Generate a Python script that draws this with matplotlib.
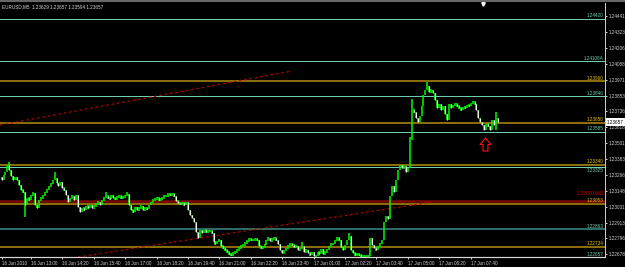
import matplotlib
matplotlib.use("Agg")
import matplotlib.pyplot as plt
import numpy as np
from matplotlib.path import Path
from matplotlib.lines import Line2D
from matplotlib.transforms import blended_transform_factory

# ---------------- data ----------------
symbol_title = "EURUSD,M5"
title_ohlc = ["1.23629", "1.23657", "1.23594", "1.23657"]

first_open = 1.23250
close = [
    1.23228, 1.23265, 1.23287, 1.23339, 1.23302, 1.23258, 1.23228, 1.23250, 1.23228, 1.23191,
    1.23154, 1.23139, 1.23043, 1.23095, 1.23080, 1.23117, 1.23132, 1.23043, 1.23021, 1.23080,
    1.23095, 1.23110, 1.23139, 1.23154, 1.23184, 1.23199, 1.23228, 1.23243, 1.23206, 1.23184,
    1.23213, 1.23169, 1.23154, 1.23117, 1.23066, 1.23095, 1.23110, 1.23080, 1.23117, 1.23029,
    1.22991, 1.23021, 1.23006, 1.23036, 1.23021, 1.23043, 1.23021, 1.23036, 1.23051, 1.23066,
    1.23043, 1.23080, 1.23095, 1.23110, 1.23095, 1.23088, 1.23117, 1.23095, 1.23088, 1.23102,
    1.23110, 1.23095, 1.23102, 1.23110, 1.23124, 1.23043, 1.23006, 1.22991, 1.23029, 1.23006,
    1.23021, 1.23036, 1.23006, 1.23021, 1.23014, 1.23043, 1.23066, 1.23080, 1.23088, 1.23095,
    1.23080, 1.23088, 1.23095, 1.23110, 1.23110, 1.23124, 1.23117, 1.23124, 1.23110, 1.23073,
    1.23058, 1.23051, 1.23058, 1.23043, 1.23066, 1.23006, 1.22969, 1.22947, 1.22917, 1.22844,
    1.22799, 1.22858, 1.22836, 1.22858, 1.22844, 1.22851, 1.22851, 1.22836, 1.22770, 1.22755,
    1.22777, 1.22784, 1.22740, 1.22726, 1.22711, 1.22696, 1.22681, 1.22674, 1.22688, 1.22696,
    1.22711, 1.22726, 1.22740, 1.22748, 1.22762, 1.22777, 1.22792, 1.22784, 1.22784, 1.22792,
    1.22784, 1.22740, 1.22726, 1.22733, 1.22748, 1.22784, 1.22799, 1.22777, 1.22792, 1.22799,
    1.22784, 1.22755, 1.22711, 1.22688, 1.22703, 1.22726, 1.22740, 1.22755, 1.22748, 1.22733,
    1.22740, 1.22711, 1.22718, 1.22740, 1.22696, 1.22711, 1.22688, 1.22674, 1.22696, 1.22666,
    1.22666, 1.22696, 1.22681, 1.22718, 1.22681, 1.22696, 1.22711, 1.22740, 1.22755, 1.22755,
    1.22784, 1.22799, 1.22784, 1.22733, 1.22711, 1.22748, 1.22784, 1.22814, 1.22711, 1.22688,
    1.22674, 1.22681, 1.22674, 1.22666, 1.22666, 1.22666, 1.22666, 1.22666, 1.22799, 1.22748,
    1.22726, 1.22711, 1.22740, 1.22755, 1.22784, 1.22917, 1.22962, 1.22940, 1.23110, 1.23184,
    1.23139, 1.23228, 1.23302, 1.23339, 1.23317, 1.23332, 1.23287, 1.23317, 1.23524, 1.23746,
    1.23731, 1.23687, 1.23657, 1.23702, 1.23775, 1.23857, 1.23894, 1.23924, 1.23879, 1.23894,
    1.23872, 1.23820, 1.23761, 1.23790, 1.23746, 1.23775, 1.23716, 1.23672, 1.23790, 1.23761,
    1.23783, 1.23790, 1.23775, 1.23761, 1.23746, 1.23768, 1.23761, 1.23783, 1.23775, 1.23798,
    1.23805, 1.23790, 1.23746, 1.23687, 1.23657, 1.23635, 1.23598, 1.23643, 1.23628, 1.23598,
    1.23672, 1.23635, 1.23687, 1.23657,
]
spike_high = {4: 1.23361, 27: 1.23287, 53: 1.23139, 64: 1.23139, 153: 1.22770,
              177: 1.22836, 208: 1.23546, 209: 1.23828, 217: 1.23953, 252: 1.23731}
spike_low = {12: 1.22954, 252: 1.23598}

level_prices = [1.24420, 1.24108, 1.23960, 1.23846, 1.23650, 1.23585, 1.23340,
                1.23325, 1.23070, 1.23053, 1.22863, 1.22734, 1.22657]
level_labels = ["1.24420", "1.24108A", "1.23960", "1.23846", "1.23650", "1.23585",
                "1.23340", "1.23325", "1.23070 MID", "1.23053", "1.22863", "1.22734", "1.22657"]
level_kinds = ["teal", "teal", "gold", "teal", "gold", "teal", "gold", "teal",
               "mid", "gold", "dteal", "gold", "teal"]

trend1_x = [-0.8, 148]
trend1_y = [1.23635, 1.24034]
trend2_x = [39, 219]
trend2_y = [1.22659, 1.23065]

arrow_x = 246.1
arrow_y = 1.23491

ytick_prices = [1.24441, 1.24323, 1.24206, 1.24088, 1.23971, 1.23853, 1.23736, 1.23618,
                1.23501, 1.23383, 1.23266, 1.23148, 1.23031, 1.22913, 1.22796, 1.22678]
xtick_bars = [0, 15, 31, 47, 63, 79, 95, 111, 127, 143, 159, 175, 191, 207, 223, 239]
xtick_labels = ["16 Jun 2010", "16 Jun 13:00", "16 Jun 14:20", "16 Jun 15:40", "16 Jun 17:00",
                "16 Jun 18:20", "16 Jun 19:40", "16 Jun 21:00", "16 Jun 22:20", "16 Jun 23:40",
                "17 Jun 01:00", "17 Jun 02:20", "17 Jun 03:40", "17 Jun 05:00", "17 Jun 06:20",
                "17 Jun 07:40"]

# ---------------- figure ----------------
W, H = 625, 267
DPI = 100
PX = 72.0 / DPI
FS = 3.3
FONT = "Liberation Sans"

fig = plt.figure(figsize=(W / DPI, H / DPI), dpi=DPI, facecolor="black")
ax_left, ax_right, ax_top, ax_bot = 0, 605, 3, 257
ax = fig.add_axes([ax_left / W, (H - ax_bot) / H, (ax_right - ax_left) / W, (ax_bot - ax_top) / H])
ax.set_facecolor("black")

ax.set_xlim(-0.8, 307.5)
ax.set_ylim(1.22659, 1.24537)
PRICE_PX = (1.24537 - 1.22659) / (ax_bot - ax_top)

# levels
styles = {
    "teal": dict(lc="#6ccfb0", lw=1.0, tc="#6ccfb0"),
    "gold": dict(lc="#b8920c", lw=1.5, tc="#e6c300"),
    "mid": dict(lc="#7a0808", lw=2.6, tc="#d40000"),
    "dteal": dict(lc="#2e6a64", lw=2.0, tc="#6ccfb0"),
}
# label offsets in pixels (positive = above line, va bottom; negative = below, va top)
label_offsets = {"1.23325": -1.0, "1.23070 MID": 5.0}
btrans = blended_transform_factory(ax.transAxes, ax.transData)
for p, lab, k in zip(level_prices, level_labels, level_kinds):
    s = styles[k]
    ax.axhline(p, color=s["lc"], lw=s["lw"] * PX, zorder=1)
    off = label_offsets.get(lab, 0.5)
    va = "bottom" if off > 0 else "top"
    ax.text(0.997, p + off * PRICE_PX, lab, transform=btrans, ha="right", va=va,
            color=s["tc"], fontsize=FS, family=FONT, zorder=5)

# trend lines
ax.plot(trend1_x, trend1_y, color="#c00000", lw=1.2 * PX, ls=(0, (2, 2.5)), zorder=2)
ax.plot(trend2_x, trend2_y, color="#c00000", lw=1.2 * PX, ls=(0, (2, 2.5)), zorder=2)

# candles
c = np.array(close)
o = np.concatenate([[first_open], c[:-1]])
x = np.arange(len(c))
hi = np.maximum(o, c)
lo = np.minimum(o, c)
for k, v in spike_high.items():
    hi[k] = max(hi[k], v)
for k, v in spike_low.items():
    lo[k] = min(lo[k], v)
minr = 2.5 * PRICE_PX
small = (hi - lo) < minr
hi[small] = hi[small] + minr / 2
lo[small] = lo[small] - minr / 2
ax.vlines(x, lo, hi, color="#00f000", lw=1.6 * PX, zorder=3)
bear = c < o
ax.vlines(x[bear], c[bear], o[bear], color="#eaffea", lw=1.1 * PX, zorder=4)

# red hollow up arrow
verts = [(0, 0.5), (0.42, 0.0), (0.19, 0.0), (0.19, -0.5), (-0.19, -0.5),
         (-0.19, 0.0), (-0.42, 0.0), (0, 0.5)]
codes = [Path.MOVETO] + [Path.LINETO] * 6 + [Path.CLOSEPOLY]
arrow_path = Path(verts, codes)
ax.plot([arrow_x], [arrow_y], marker=arrow_path, ms=13 * PX, mfc="none", mec="#ff1010",
        mew=1.1 * PX, ls="none", zorder=6)

# axes styling
for side in ("left", "top"):
    ax.spines[side].set_visible(False)
ax.spines["right"].set_color("#c8c8c8")
ax.spines["right"].set_linewidth(1.0 * PX)
ax.spines["bottom"].set_color("#d8d8d8")
ax.spines["bottom"].set_linewidth(1.2 * PX)

ax.yaxis.tick_right()
ax.set_yticks(ytick_prices)
ax.set_yticklabels([f"{v:.5f}" for v in ytick_prices])
ax.tick_params(axis="y", colors="#c8c8c8", length=2.5 * PX, width=1.0 * PX, pad=1.2,
               labelsize=FS, labelcolor="#d0d0d0")
ax.set_xticks(xtick_bars)
ax.set_xticklabels(xtick_labels, ha="left")
ax.tick_params(axis="x", colors="#c8c8c8", length=2.5 * PX, width=1.0 * PX, pad=1.3,
               labelsize=FS, labelcolor="#d0d0d0")
for t in ax.get_xticklabels() + ax.get_yticklabels():
    t.set_family(FONT)

# current price box
ax.text(1.0 + 2.0 / 605, c[-1], f"{c[-1]:.5f}", transform=btrans, ha="left", va="center",
        fontsize=FS, family=FONT, color="black", zorder=7, clip_on=False,
        bbox=dict(boxstyle="square,pad=0.3", fc="white", ec="white", lw=0))

# chart shift marker at top
ax.plot([483 / 605], [(ax_bot - 4) / (ax_bot - ax_top)], transform=ax.transAxes, marker="v",
        ms=3.5 * PX, color="white", ls="none", clip_on=False, zorder=8)

# top border line
fig.add_artist(Line2D([0, 1], [1 - 1.0 / H, 1 - 1.0 / H], transform=fig.transFigure,
                      color="#8a8a8a", lw=1.5 * PX))

# title
fig.text(2 / W, 1 - 6.5 / H, symbol_title + "  " + " ".join(title_ohlc), ha="left", va="center",
         fontsize=FS, family=FONT, color="#d8d8d8")

fig.savefig("out.png", dpi=DPI, facecolor="black")
